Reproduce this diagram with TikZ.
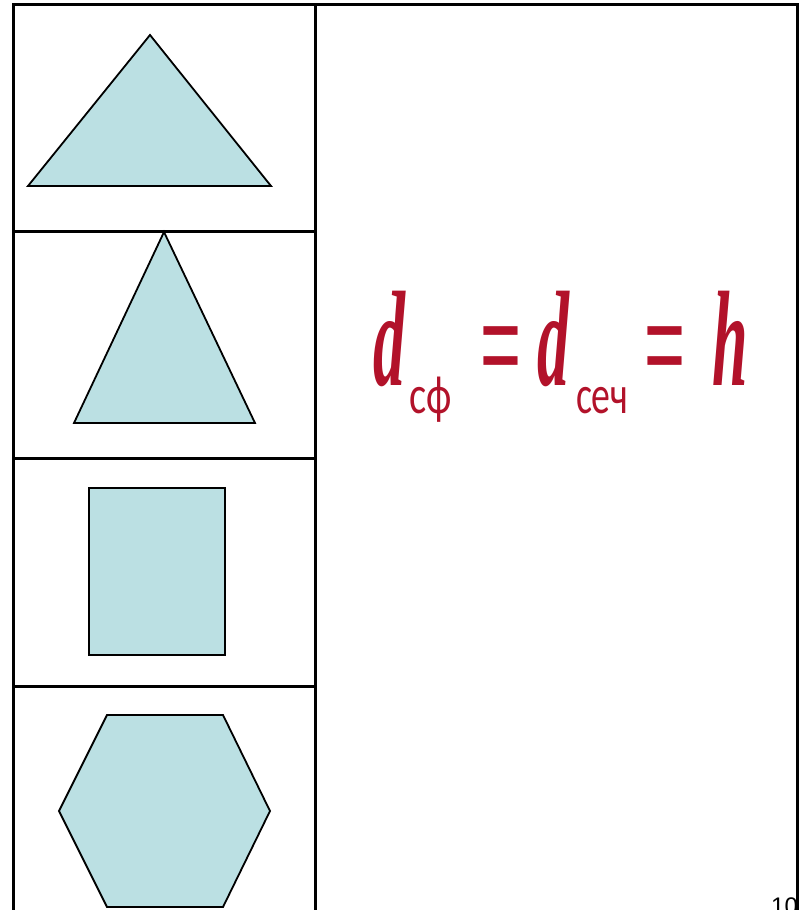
\documentclass[tikz,border=0pt]{standalone}
\usepackage{fontspec}
\usepackage{graphicx}
\setmainfont{Liberation Serif}
\newfontfamily\subfnt{Carlito}
\newfontfamily\pagefnt{Liberation Sans}
\definecolor{shapefill}{RGB}{187,224,227}
\definecolor{formred}{RGB}{178,18,42}
\tikzset{
  grid/.style={line width=3pt, black},
  figure/.style={fill=shapefill, draw=black, line width=1.8pt, line join=miter},
  glyph/.style={inner sep=0pt, outer sep=0pt, text=formred},
}
\begin{document}
\begin{tikzpicture}[x=1pt, y=-1pt]
\useasboundingbox (0,0) rectangle (803,910);
\fill[white] (0,0) rectangle (803,910);
\begin{scope}
\clip (0,0) rectangle (803,910);
% table
\draw[grid] (13,930) -- (13,4) -- (797,4) -- (797,930);
\draw[grid] (315,4) -- (315,930);
\draw[grid] (13,231) -- (315,231);
\draw[grid] (13,458) -- (315,458);
\draw[grid] (13,686) -- (315,686);
% shapes
\draw[figure] (150,35) -- (271,186) -- (28,186) -- cycle;
\draw[figure] (164,232) -- (255,423) -- (74,423) -- cycle;
\draw[figure, line width=2.5pt] (89,488) rectangle (225,655);
\draw[figure] (107,715) -- (223,715) -- (270,811) -- (223,907) -- (107,907) -- (59,811) -- cycle;
% formula
\node[glyph, anchor=base west] (d1) at (373,385) {\scalebox{0.47}[1]{\fontsize{136}{136}\selectfont\bfseries\itshape d}};
\node[glyph, anchor=base west] (s1) at (409,413) {\scalebox{0.75}[1]{\fontsize{54}{54}\subfnt сф}};
\node[glyph, anchor=base west] (e1) at (480,385) {\scalebox{1.17}[2.0]{\fontsize{60}{60}\pagefnt =}};
\node[glyph, anchor=base west] (d2) at (537,385) {\scalebox{0.47}[1]{\fontsize{136}{136}\selectfont\bfseries\itshape d}};
\node[glyph, anchor=base west] (s2) at (576,413) {\scalebox{0.7}[1]{\fontsize{54}{54}\subfnt сеч}};
\node[glyph, anchor=base west] (e2) at (644,385) {\scalebox{1.17}[2.0]{\fontsize{60}{60}\pagefnt =}};
\node[glyph, anchor=base west] (h1) at (712,385) {\scalebox{0.47}[1]{\fontsize{136}{136}\selectfont\bfseries\itshape h}};
% page number
\node[inner sep=0pt, anchor=north west] (pg) at (771,898) {\fontsize{24}{24}\pagefnt 10};
\end{scope}
\end{tikzpicture}
\end{document}
